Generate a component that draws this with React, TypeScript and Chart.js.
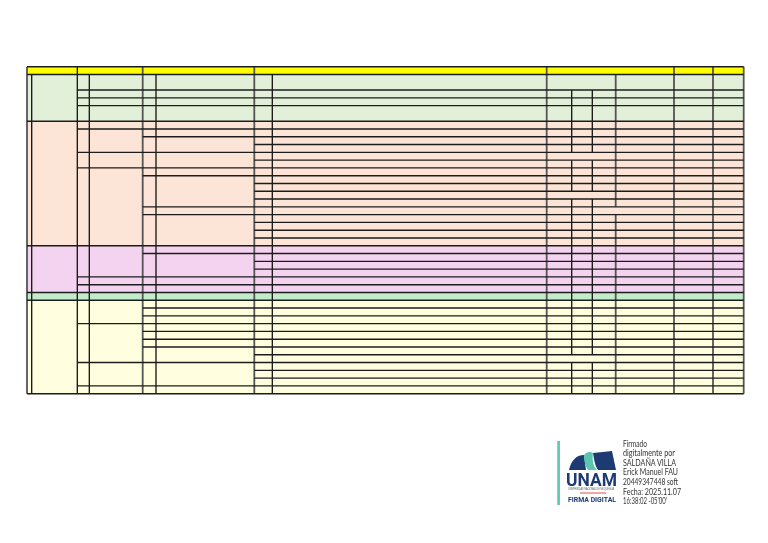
import React, { useEffect, useRef } from 'react';
import { Chart, registerables } from 'chart.js';

Chart.register(...registerables);

// Column widths of the sheet, left to right (the first edge sits at 0)
const columnWidths = [4.7, 45.6, 12, 53.4, 13.3, 98.3, 18, 274.4, 25, 20.6, 23.4, 58.3, 39, 30.7];

// Coloured row bands (row indexes, header is row -1)
const bandStart = [-1, 0, 6, 22, 28, 29];
const bandEnd = [0, 6, 22, 28, 29, 41];

// Horizontal rules: row boundary and the column edge the rule starts from (runs to the right edge)
const ruleRows = [-1, 0, 2, 3, 4, 6, 7, 8, 9, 10, 11, 12, 13, 14, 15, 16, 17, 18, 19, 20, 21, 22, 23, 24, 25, 26, 27, 28, 29, 30, 31, 32, 33, 34, 35, 36, 37, 38, 39, 40, 41];
const ruleFromCol = [0, 0, 2, 2, 2, 0, 2, 4, 6, 2, 6, 2, 4, 6, 6, 6, 4, 4, 6, 6, 6, 0, 4, 6, 6, 2, 2, 0, 0, 4, 4, 2, 4, 4, 4, 6, 2, 6, 6, 2, 0];

// Vertical rules: column edge, first row, last row
const vRuleEdge = [0, 1, 2, 3, 4, 5, 6, 7, 8, 9, 9, 9, 9, 10, 10, 10, 10, 11, 11, 12, 13, 14];
const vRuleFrom = [-1, 0, -1, 0, -1, 0, -1, 0, -1, 2, 11, 16, 37, 2, 11, 16, 37, 0, 18, -1, -1, -1];
const vRuleTo = [41, 41, 41, 41, 41, 41, 41, 41, 41, 10, 15, 36, 41, 10, 15, 36, 41, 17, 41, 41, 41, 41];

const signatureLines = [
  'Firmado',
  'digitalmente por',
  'SALDAÑA VILLA',
  'Erick Manuel FAU',
  '20449347448 soft',
  'Fecha: 2025.11.07',
  "16:38:02 -05'00'",
];

// styles
const bandColors = ['#FFFF00', '#E2F0D9', '#FCE4D6', '#F3D3EF', '#C3ECCB', '#FFFEDF'];
const heavyEdges = new Set([0, 4, 6, 8, 11, 12, 13, 14]);
const signatureWidths = [24, 52, 53, 55, 55, 58, 44];

const App: React.FC = () => {
  const canvasRef = useRef<HTMLCanvasElement | null>(null);

  useEffect(() => {
    if (!canvasRef.current) return;
    const edges = columnWidths.reduce<number[]>((acc, w) => {
      acc.push(acc[acc.length - 1] + w);
      return acc;
    }, [0]);
    const tableWidth = edges[edges.length - 1];

    const bands = bandStart.map((start, i) => ({
      data: [{ x: 0, y: start }, { x: tableWidth, y: start }],
      fill: { value: bandEnd[i] },
      backgroundColor: bandColors[i],
      borderWidth: 0,
      borderColor: 'transparent',
      pointRadius: 0,
      order: 2,
      clip: false as const,
    }));

    const hRules = ruleRows.map((row, i) => ({
      data: [{ x: edges[ruleFromCol[i]], y: row }, { x: tableWidth, y: row }],
      borderColor: '#1c1c1c',
      borderWidth: 1.4,
      pointRadius: 0,
      fill: false,
      order: 1,
      clip: false as const,
    }));

    const vRules = vRuleEdge.map((edge, i) => ({
      data: [{ x: edges[edge], y: vRuleFrom[i] }, { x: edges[edge], y: vRuleTo[i] }],
      borderColor: heavyEdges.has(edge) ? '#555555' : '#111111',
      borderWidth: heavyEdges.has(edge) ? 1.8 : 1.3,
      pointRadius: 0,
      fill: false,
      order: 1,
      clip: false as const,
    }));

    const chart = new Chart(canvasRef.current, {
      type: 'line',
      data: { datasets: [...bands, ...hRules, ...vRules] as any },
      options: {
        animation: false,
        responsive: false,
        maintainAspectRatio: false,
        layout: { padding: { left: 27, right: 24.3, top: 66.7, bottom: 149.3 } },
        scales: {
          x: { type: 'linear', display: false, min: 0, max: tableWidth },
          y: { type: 'linear', display: false, min: -1, max: 41, reverse: true },
        },
        plugins: {
          legend: { display: false },
          tooltip: { enabled: false },
        },
        elements: { line: { tension: 0 }, point: { radius: 0 } },
      },
    });

    return () => {
      chart.destroy();
    };
  }, []);

  return (
    <div style={{ position: 'absolute', left: 0, top: 0, width: 768, height: 543, background: '#fff' }}>
      <canvas ref={canvasRef} width={768} height={543} style={{ position: 'absolute', left: 0, top: 0, width: 768, height: 543 }} />
      <svg width={768} height={543} style={{ position: 'absolute', left: 0, top: 0, pointerEvents: 'none' }}>
        {/* digital signature stamp */}
        <rect x={557.3} y={441} width={2.6} height={64} fill="#5cc5b0" />
        <path d="M569,470 C571,461 576,455 584,455 L586,470 Z" fill="#1d3a72" />
        <path d="M584,455 C586,452 590,451 593,453 C592,460 593,466 597,470 L588,470 C585,466 584,460 584,455 Z" fill="#5cc5b0" />
        <path d="M593,453 L612,451 L616,470 L598,470 C595,466 594,459 593,453 Z" fill="#1d3a72" />
        <text x={566} y={486} fontFamily="Roboto, 'Liberation Sans', sans-serif" fontWeight="bold" fontSize={18.5}
          fill="#1d3a72" textLength={51} lengthAdjust="spacingAndGlyphs">UNAM</text>
        <text x={568} y={489.5} fontFamily="'Liberation Sans', sans-serif" fontSize={2.6} fill="#555"
          textLength={46} lengthAdjust="spacingAndGlyphs">UNIVERSIDAD NACIONAL DE MOQUEGUA</text>
        <line x1={580} y1={493} x2={606} y2={493} stroke="#d9534f" strokeWidth={1} />
        <text x={568} y={502} fontFamily="Roboto, 'Liberation Sans', sans-serif" fontWeight="bold" fontSize={7.5}
          fill="#1d3a72" textLength={48} lengthAdjust="spacingAndGlyphs">FIRMA DIGITAL</text>
        {signatureLines.map((line, i) => (
          <text key={i} x={623} y={446.5 + i * 9.6} fontFamily="Lato, 'Open Sans', sans-serif" fontSize={9.6}
            fill="#333" textLength={signatureWidths[i]} lengthAdjust="spacingAndGlyphs">{line}</text>
        ))}
      </svg>
    </div>
  );
};

export default App;
